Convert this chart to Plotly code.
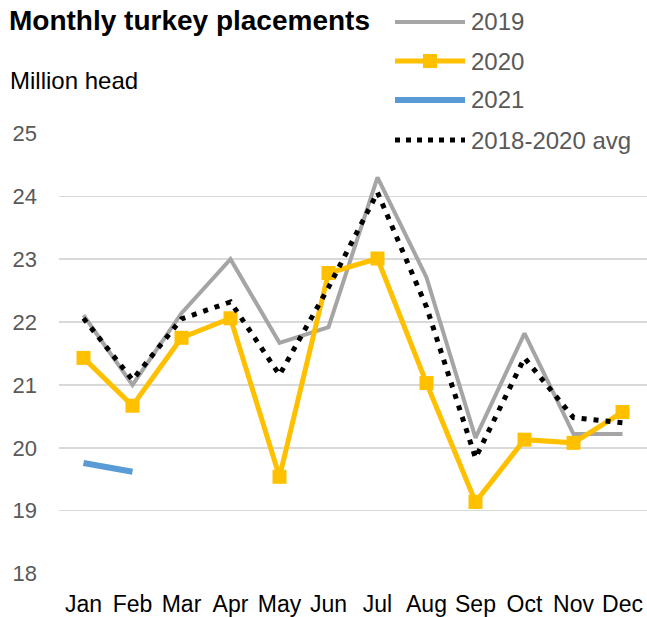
import plotly.graph_objects as go

months = ["Jan", "Feb", "Mar", "Apr", "May", "Jun", "Jul", "Aug", "Sep", "Oct", "Nov", "Dec"]
y2019 = [22.11, 21.00, 22.14, 23.00, 21.67, 21.92, 24.30, 22.71, 20.16, 21.82, 20.22, 20.22]
y2020 = [21.43, 20.67, 21.75, 22.06, 19.54, 22.78, 23.01, 21.03, 19.14, 20.13, 20.08, 20.57]
y2021 = [19.76, 19.62]
yavg = [22.06, 21.08, 22.05, 22.32, 21.16, 22.55, 24.06, 22.24, 19.84, 21.43, 20.48, 20.40]
ytick_vals = [18, 19, 20, 21, 22, 23, 24, 25]

title_text = "Monthly turkey placements"
unit_text = "Million head"
legend_names = ["2019", "2020", "2021", "2018-2020 avg"]

GRAY = "#A5A5A5"
YELLOW = "#FFC000"
BLUE = "#5B9BD5"
FONT = "Liberation Sans, Arial, sans-serif"

W, H = 647, 617
L, R, T, B = 59, 0, 133, 43
PW = W - L - R
PH = H - T - B


def xp(px):
    return (px - L) / PW


def yp(py):
    return (H - B - py) / PH


fig = go.Figure()
fig.add_trace(go.Scatter(x=months, y=y2019, mode="lines", name=legend_names[0],
                         line=dict(color=GRAY, width=4)))
fig.add_trace(go.Scatter(x=months, y=y2020, mode="lines+markers", name=legend_names[1],
                         line=dict(color=YELLOW, width=5),
                         marker=dict(symbol="square", size=14, color=YELLOW)))
fig.add_trace(go.Scatter(x=months[:len(y2021)], y=y2021, mode="lines", name=legend_names[2],
                         line=dict(color=BLUE, width=6)))
fig.add_trace(go.Scatter(x=months, y=yavg, mode="lines", name=legend_names[3],
                         line=dict(color="black", width=5, dash="5px,7px")))

shapes = []
annotations = []
leg_y = [22, 61, 100, 140]
leg_x0, leg_x1, leg_tx = 395, 465, 469
styles = [
    dict(color=GRAY, width=4),
    dict(color=YELLOW, width=5),
    dict(color=BLUE, width=6),
    dict(color="black", width=5, dash="5px,6px"),
]
for name, py, st in zip(legend_names, leg_y, styles):
    shapes.append(dict(type="line", xref="paper", yref="paper",
                       x0=xp(leg_x0), x1=xp(leg_x1), y0=yp(py), y1=yp(py), line=st))
    annotations.append(dict(text=name, xref="paper", yref="paper", x=xp(leg_tx), y=yp(py),
                            xanchor="left", yanchor="middle", showarrow=False,
                            font=dict(family=FONT, size=24, color="#595959")))
# square marker in 2020 legend entry
shapes.append(dict(type="rect", xref="paper", yref="paper",
                   x0=xp(423), x1=xp(437), y0=yp(61 + 7), y1=yp(61 - 7),
                   fillcolor=YELLOW, line=dict(width=0)))

annotations.append(dict(text=unit_text, xref="paper", yref="paper", x=xp(8), y=yp(80),
                        xanchor="left", yanchor="middle", showarrow=False,
                        font=dict(family=FONT, size=24, color="black")))

fig.update_layout(
    width=W, height=H,
    margin=dict(l=L, r=R, t=T, b=B),
    paper_bgcolor="white", plot_bgcolor="white",
    showlegend=False,
    hovermode=False,
    title=dict(text="<b>" + title_text + "</b>", x=9 / W, xanchor="left", xref="container",
               y=1 - 20 / H, yanchor="middle", yref="container",
               font=dict(family=FONT, size=28, color="black")),
    shapes=shapes,
    annotations=annotations,
    font=dict(family=FONT),
)
fig.update_xaxes(type="category", range=[-0.5, 11.5], showgrid=False, showline=False,
                 zeroline=False, ticks="", ticklabelstandoff=14,
                 tickfont=dict(family=FONT, size=23, color="black"))
fig.update_yaxes(range=[17.995, 25.005], tickvals=ytick_vals, showgrid=True,
                 gridcolor="#D9D9D9", gridwidth=1.3, zeroline=False, showline=False,
                 ticks="", ticklabelstandoff=21,
                 tickfont=dict(family=FONT, size=22, color="#595959"))

fig.write_html("out.html", config={"displayModeBar": False, "staticPlot": True},
               post_script="document.body.style.margin='0';document.body.style.overflow='hidden';")
